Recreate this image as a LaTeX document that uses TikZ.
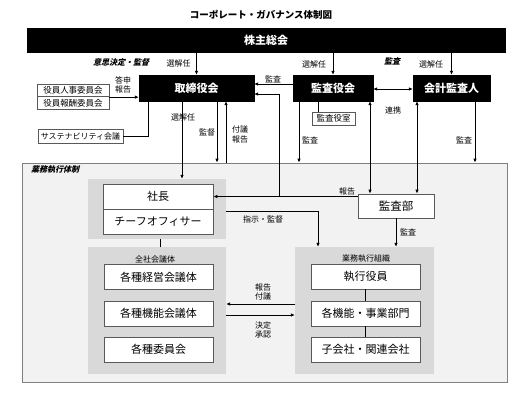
\documentclass[tikz,border=0pt]{standalone}
\usepackage{fontspec}
\setmainfont{Noto Sans CJK JP}
\newfontfamily\jpslant{Noto Sans CJK JP}[FakeSlant=0.25]
\usetikzlibrary{arrows.meta}
\definecolor{framefill}{HTML}{F2F2F2}
\definecolor{framedraw}{HTML}{7F7F7F}
\definecolor{panelfill}{HTML}{D9D9D9}
\definecolor{boxdraw}{HTML}{595959}
\tikzset{
  blackbox/.style={draw=black,fill=black,text=white,font=\fontsize{11}{12}\selectfont\bfseries,inner sep=0pt},
  whitebox/.style={draw=boxdraw,fill=white,line width=0.8pt,font=\fontsize{11}{12}\selectfont,inner sep=0pt,minimum width=109pt,minimum height=25pt},
  smallbox/.style={draw=boxdraw,fill=white,line width=0.8pt,font=\fontsize{8.5}{10}\selectfont,inner sep=0pt},
  panel/.style={fill=panelfill,draw=none,inner sep=0pt},
  lbl/.style={font=\fontsize{8}{9.5}\selectfont,inner sep=0pt,align=center},
  hlbl/.style={font=\jpslant\fontsize{8}{9}\selectfont\bfseries,inner sep=0pt},
  conn/.style={line width=0.8pt,black},
  arr/.style={conn,-{Latex[length=4pt,width=3.6pt]}},
  darr/.style={conn,{Latex[length=4pt,width=3.6pt]}-{Latex[length=4pt,width=3.6pt]}},
}
\begin{document}
\begin{tikzpicture}[x=1pt,y=-1pt]
\useasboundingbox[fill=white] (0,0) rectangle (523,392);
% title
\node[font=\fontsize{9.5}{11}\selectfont\bfseries,inner sep=0pt] (title) at (261,15) {コーポレート・ガバナンス体制図};
% top bar
\node[blackbox,minimum width=478pt,minimum height=24pt] (kabu) at (266,40) {株主総会};
% main bodies
\node[blackbox,minimum width=115pt,minimum height=26pt] (tori) at (196.5,88) {取締役会};
\node[blackbox,minimum width=80pt,minimum height=26pt] (kansa) at (333,88) {監査役会};
\node[blackbox,minimum width=77pt,minimum height=26pt] (kaikei) at (451.5,88) {会計監査人};
% committees
\node[smallbox,minimum width=72pt,minimum height=12.5pt] (iin1) at (73,90.5) {役員人事委員会};
\node[smallbox,minimum width=72pt,minimum height=12.5pt] (iin2) at (73,103) {役員報酬委員会};
\node[smallbox,font=\fontsize{8}{9}\selectfont,minimum width=85pt,minimum height=14pt] (sus) at (80.5,136) {サステナビリティ会議};
\node[smallbox,minimum width=43pt,minimum height=13pt] (kshitsu) at (333.5,118.5) {監査役室};
% frame
\node[fill=framefill,draw=framedraw,line width=0.8pt,minimum width=485pt,minimum height=219pt,inner sep=0pt] (frame) at (264.5,272.5) {};
\node[hlbl] (framelbl) at (55,170) {業務執行体制};
% panels
\node[panel,minimum width=138pt,minimum height=60pt] (p1) at (157,209) {};
\node[panel,minimum width=138pt,minimum height=127pt] (p2) at (157,310.5) {};
\node[panel,minimum width=139pt,minimum height=127pt] (p3) at (364.5,310.5) {};
\node[lbl] (p2lbl) at (155,259) {全社会議体};
\node[lbl] (p3lbl) at (366,259) {業務執行組織};
% boxes
\node[whitebox,minimum width=110pt] (shacho) at (158,196.5) {社長};
\node[whitebox,minimum width=110pt] (chief) at (158,221.5) {チーフオフィサー};
\node[whitebox] (keiei) at (158.5,277) {各種経営会議体};
\node[whitebox] (kinou) at (158.5,313.5) {各種機能会議体};
\node[whitebox] (iinkai) at (158.5,349.5) {各種委員会};
\node[whitebox] (shikkou) at (365.5,276.5) {執行役員};
\node[whitebox] (bumon) at (365.5,313.5) {各機能・事業部門};
\node[whitebox] (kogaisha) at (365.5,349.5) {子会社・関連会社};
\node[whitebox,font=\fontsize{11.5}{12}\selectfont,minimum width=76pt,minimum height=24pt] (kansabu) at (396,206) {監査部};
% connectors from shareholders
\draw[arr] (kabu.south -| tori) -- (tori.north);
\draw[arr] (kabu.south -| kansa) -- (kansa.north);
\draw[arr] (kabu.south -| kaikei) -- (kaikei.north);
% committees to board
\draw[arr] (iin1.south east) -- (iin1.south east -| tori.west);
\draw[conn] (sus.east) -| ([xshift=-48.5pt]tori.south);
% board down
\draw[arr] ([xshift=-14.5pt]tori.south) -- ([xshift=-14.5pt]tori.south |- p1.north);
\draw[arr] ([xshift=20.5pt]tori.south) -- ([xshift=20.5pt]tori.south |- frame.north);
\draw[arr] ([xshift=29.5pt]tori.south |- frame.north) -- ([xshift=29.5pt]tori.south);
% audit board
\draw[arr] ([yshift=4pt]kansa.west) -- ([yshift=4pt]tori.east);
\draw[conn] ([xshift=-15.5pt]kshitsu.north |- kansa.south) -- ([xshift=-15.5pt]kshitsu.north);
\draw[arr] ([xshift=-34pt]kansa.south) -- ([xshift=-34pt]kansa.south |- frame.north);
\draw[darr] ([xshift=37pt]kansa.south) -- ([xshift=37pt]kansa.south |- kansabu.north);
\draw[darr] ([yshift=-1pt]kansa.east) -- ([yshift=-1pt]kaikei.west);
% accounting auditor
\draw[darr] ([xshift=-34.5pt]kaikei.south) -- ([xshift=-34.5pt]kaikei.south |- kansabu.north);
\draw[arr] ([xshift=23.5pt]kaikei.south) -- ([xshift=23.5pt]kaikei.south |- frame.north);
% internal audit report
\coordinate (junc) at (279,196.5);
\draw[arr] (kansabu.west |- shacho.east) -- (shacho.east);
\draw[arr] (junc) |- ([yshift=-6pt]tori.east);
% inside
\draw[conn] ([xshift=3pt]p1.south) -- ([xshift=3pt]p2.north);
\draw[arr] ([yshift=-2pt]p1.east) -| ([xshift=-46.5pt]p3.north);
\draw[arr] (kansabu.south) -- (kansabu.south |- p3.north);
\draw[arr] ([yshift=6.5pt]p3.west) -- ([yshift=6.5pt]p2.east);
\draw[arr] ([yshift=-4.5pt]p2.east) -- ([yshift=-4.5pt]p3.west);
\draw[conn] (shikkou.south) -- (bumon.north);
\draw[conn] (bumon.south) -- (kogaisha.north);
% labels
\node[hlbl] (l1) at (121,62) {意思決定・監督};
\node[hlbl] (l2) at (392,61) {監査};
\node[lbl] (l3) at (178.5,63.5) {選解任};
\node[lbl] (l4) at (314,64) {選解任};
\node[lbl] (l5) at (431,64) {選解任};
\node[lbl] (l6) at (123,85) {答申\\報告};
\node[lbl] (l7) at (273,79) {監査};
\node[lbl] (l8) at (183,117) {選解任};
\node[lbl] (l9) at (207,132) {監督};
\node[lbl] (l10) at (240,134.5) {付議\\報告};
\node[lbl] (l11) at (310,140) {監査};
\node[lbl] (l12) at (393,110) {連携};
\node[lbl] (l13) at (464,140) {監査};
\node[lbl] (l14) at (347,191) {報告};
\node[lbl] (l15) at (263,219) {指示・監督};
\node[lbl] (l16) at (408,232) {監査};
\node[lbl] (l17) at (263,292) {報告\\付議};
\node[lbl] (l18) at (263,330) {決定\\承認};
\end{tikzpicture}
\end{document}
